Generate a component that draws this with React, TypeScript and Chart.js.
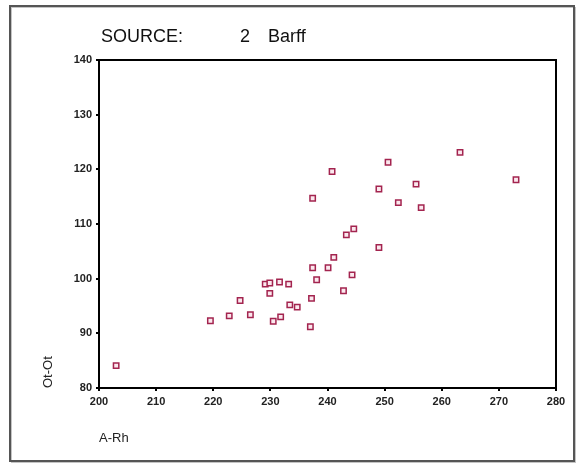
import React, { useEffect, useRef } from "react";
import { Chart, registerables } from "chart.js";

Chart.register(...registerables);

const titleParts = ["SOURCE:", "2", "Barff"];
const xLabel = "A-Rh";
const yLabel = "Ot-Ot";

const xValues = [
  203.0, 219.5, 222.8, 224.7, 226.5, 229.1, 229.9, 231.6, 233.2, 229.9,
  230.5, 231.8, 233.4, 234.7, 237.0, 237.2, 237.4, 238.1, 240.1, 241.1,
  242.8, 244.3, 243.3, 244.6, 249.0, 237.4, 240.8, 249.0, 250.6, 252.4,
  255.5, 256.4, 263.2, 273.0,
];
const yValues = [
  84.1, 92.3, 93.2, 96.0, 93.4, 99.0, 99.2, 99.4, 99.0, 97.3,
  92.2, 93.0, 95.2, 94.8, 91.2, 96.4, 102.0, 99.8, 102.0, 103.9,
  97.8, 100.7, 108.0, 109.1, 105.7, 114.7, 119.6, 116.4, 121.3, 113.9,
  117.3, 113.0, 123.1, 118.1,
];

const xMin = 200;
const xMax = 280;
const yMin = 80;
const yMax = 140;
const step = 10;

const FONT = "Arial, 'Liberation Sans', sans-serif";

export default function App() {
  const ref = useRef<HTMLCanvasElement | null>(null);

  useEffect(() => {
    document.body.style.margin = "0";
    if (!ref.current) return;
    const boxPlugin = {
      id: "boxAndTitle",
      beforeDraw(chart: any) {
        const { ctx } = chart;
        ctx.save();
        ctx.fillStyle = "#fff";
        ctx.fillRect(0, 0, chart.width, chart.height);
        ctx.strokeStyle = "#c4c4c4";
        ctx.lineWidth = 1;
        ctx.strokeRect(11.5, 7.5, 564, 455);
        ctx.strokeStyle = "#555";
        ctx.lineWidth = 2;
        ctx.strokeRect(10, 6, 564, 455);
        ctx.restore();
      },
      afterDraw(chart: any) {
        const { ctx, chartArea } = chart;
        ctx.save();
        ctx.strokeStyle = "#000";
        ctx.lineWidth = 2;
        ctx.strokeRect(
          chartArea.left,
          chartArea.top,
          chartArea.right - chartArea.left,
          chartArea.bottom - chartArea.top
        );
        ctx.fillStyle = "#111";
        ctx.font = `18px ${FONT}`;
        ctx.textBaseline = "alphabetic";
        ctx.textAlign = "left";
        const base = 42;
        ctx.fillText(titleParts[0], chartArea.left + 2, base);
        ctx.fillText(titleParts[1], chartArea.left + 141, base);
        ctx.fillText(titleParts[2], chartArea.left + 169, base);
        ctx.restore();
      },
    };

    const chart = new Chart(ref.current, {
      type: "scatter",
      data: {
        datasets: [
          {
            data: xValues.map((x, i) => ({ x, y: yValues[i] })),
            pointStyle: "rect",
            pointRadius: 3.8,
            pointBorderWidth: 1.5,
            borderColor: "#a3244f",
            backgroundColor: "#fbe8ee",
          },
        ],
      },
      options: {
        responsive: false,
        animation: false,
        layout: { padding: { top: 60, right: 22, left: 0, bottom: 0 } },
        plugins: {
          legend: { display: false },
          tooltip: { enabled: false },
          title: { display: false },
        },
        scales: {
          x: {
            type: "linear",
            min: xMin,
            max: xMax,
            ticks: {
              stepSize: step,
              color: "#222",
              font: { family: FONT, size: 11, weight: "bold" },
              padding: 4,
            },
            grid: {
              drawOnChartArea: false,
              drawTicks: true,
              tickLength: 3,
              color: "#000",
              lineWidth: 2,
            },
            border: { display: true, color: "#000", width: 2 },
            title: {
              display: true,
              text: xLabel,
              align: "start",
              color: "#222",
              font: { family: FONT, size: 13 },
              padding: { top: 0, bottom: 20 },
            },
            afterFit(scale: any) {
              scale.height = 78;
            },
          },
          y: {
            type: "linear",
            min: yMin,
            max: yMax,
            ticks: {
              stepSize: step,
              color: "#222",
              font: { family: FONT, size: 11, weight: "bold" },
              padding: 4,
            },
            grid: {
              drawOnChartArea: false,
              drawTicks: true,
              tickLength: 3,
              color: "#000",
              lineWidth: 2,
            },
            border: { display: true, color: "#000", width: 2 },
            title: {
              display: true,
              text: yLabel,
              align: "start",
              color: "#222",
              font: { family: FONT, size: 13 },
              padding: { top: 41, bottom: 0 },
            },
            afterFit(scale: any) {
              scale.width = 99;
            },
          },
        },
      },
      plugins: [boxPlugin],
    } as any);
    return () => chart.destroy();
  }, []);

  return (
    <div style={{ position: "relative", width: 578, height: 466 }}>
      <canvas ref={ref} width={578} height={466} style={{ display: "block" }} />
    </div>
  );
}
